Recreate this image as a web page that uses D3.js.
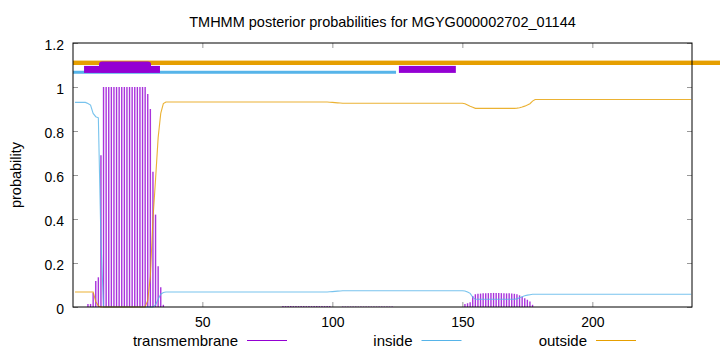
<!DOCTYPE html>
<html>
<head>
<meta charset="utf-8">
<script src="https://cdn.jsdelivr.net/npm/d3@7"></script>
<style>
  body { margin: 0; background: #fff; }
  svg { display: block; font-family: "Liberation Sans", Arial, sans-serif; }
</style>
</head>
<body>
<script>

// posterior probabilities per residue (1..238)
var insideProb = [
    0.93, 0.93, 0.93, 0.93, 0.93, 0.925, 0.918, 0.88, 0.865, 0.86,
    0.3, 0, 0, 0, 0, 0, 0, 0, 0, 0,
    0, 0, 0, 0, 0, 0, 0, 0, 0, 0,
    0, 0.01, 0.035, 0.058, 0.066, 0.068, 0.068, 0.068, 0.068, 0.068,
    0.068, 0.068, 0.068, 0.068, 0.068, 0.068, 0.068, 0.068, 0.068, 0.068,
    0.068, 0.068, 0.068, 0.068, 0.068, 0.068, 0.068, 0.068, 0.068, 0.068,
    0.068, 0.068, 0.068, 0.068, 0.068, 0.068, 0.068, 0.068, 0.068, 0.068,
    0.068, 0.068, 0.068, 0.068, 0.068, 0.068, 0.068, 0.068, 0.068, 0.068,
    0.068, 0.068, 0.068, 0.068, 0.068, 0.068, 0.068, 0.068, 0.068, 0.068,
    0.068, 0.068, 0.068, 0.068, 0.068, 0.068, 0.068, 0.068, 0.069, 0.070,
    0.071, 0.072, 0.073, 0.074, 0.074, 0.074, 0.074, 0.074, 0.074, 0.074,
    0.074, 0.074, 0.074, 0.074, 0.074, 0.074, 0.074, 0.074, 0.074, 0.074,
    0.074, 0.074, 0.074, 0.074, 0.074, 0.074, 0.074, 0.074, 0.074, 0.074,
    0.074, 0.074, 0.074, 0.074, 0.074, 0.074, 0.074, 0.074, 0.074, 0.074,
    0.074, 0.074, 0.074, 0.074, 0.074, 0.074, 0.074, 0.074, 0.074, 0.074,
    0.073, 0.068, 0.062, 0.045, 0.035, 0.035, 0.035, 0.035, 0.035, 0.035,
    0.035, 0.035, 0.035, 0.035, 0.035, 0.035, 0.035, 0.035, 0.035, 0.035,
    0.037, 0.042, 0.047, 0.051, 0.054, 0.056, 0.058, 0.058, 0.058, 0.058,
    0.058, 0.058, 0.058, 0.058, 0.058, 0.058, 0.058, 0.058, 0.058, 0.058,
    0.058, 0.058, 0.058, 0.058, 0.058, 0.058, 0.058, 0.058, 0.058, 0.058,
    0.058, 0.058, 0.058, 0.058, 0.058, 0.058, 0.058, 0.058, 0.058, 0.058,
    0.058, 0.058, 0.058, 0.058, 0.058, 0.058, 0.058, 0.058, 0.058, 0.058,
    0.058, 0.058, 0.058, 0.058, 0.058, 0.058, 0.058, 0.058, 0.058, 0.058,
    0.058, 0.058, 0.058, 0.058, 0.058, 0.058, 0.058, 0.058
];

var tmProb = [
    0, 0, 0, 0, 0, 0.014, 0.014, 0.065, 0.118, 0.135,
    0.69, 1, 1, 1, 1, 1, 1, 1, 1, 1,
    1, 1, 1, 1, 1, 1, 1, 1, 0.968, 0.9,
    0.615, 0.42, 0.185, 0.09, 0.01, 0, 0, 0, 0, 0,
    0, 0, 0, 0, 0, 0, 0, 0, 0, 0,
    0, 0, 0, 0, 0, 0, 0, 0, 0, 0,
    0, 0, 0, 0, 0, 0, 0, 0, 0, 0,
    0, 0, 0, 0, 0, 0, 0, 0, 0, 0,
    0.004, 0.004, 0.004, 0.004, 0.004, 0.004, 0.004, 0.004, 0.004, 0.004,
    0.004, 0.004, 0.004, 0.004, 0.004, 0.004, 0.004, 0.004, 0.004, 0,
    0, 0, 0, 0.002, 0.002, 0.002, 0.002, 0.002, 0.002, 0.002,
    0.002, 0.002, 0.002, 0.002, 0.002, 0.002, 0.002, 0.002, 0.002, 0.002,
    0.002, 0.002, 0.002, 0, 0, 0, 0, 0, 0, 0,
    0, 0, 0, 0, 0, 0, 0, 0, 0, 0,
    0, 0, 0, 0, 0, 0, 0, 0, 0, 0,
    0.014, 0.017, 0.022, 0.05, 0.058, 0.06, 0.061, 0.062, 0.063, 0.063,
    0.064, 0.064, 0.064, 0.064, 0.063, 0.063, 0.062, 0.062, 0.061, 0.06,
    0.058, 0.053, 0.047, 0.04, 0.033, 0.025, 0.01, 0, 0, 0,
    0, 0, 0, 0, 0, 0, 0, 0, 0, 0,
    0, 0, 0, 0, 0, 0, 0, 0, 0, 0,
    0, 0, 0, 0, 0, 0, 0, 0, 0, 0,
    0, 0, 0, 0, 0, 0, 0, 0, 0, 0,
    0, 0, 0, 0, 0, 0, 0, 0, 0, 0,
    0, 0, 0, 0, 0, 0, 0, 0
];

var outsideProb = [
    0.068, 0.068, 0.068, 0.068, 0.068, 0.068, 0.068, 0.068, 0.025, 0.005,
    0, 0, 0, 0, 0, 0, 0, 0, 0, 0,
    0, 0, 0, 0, 0, 0, 0, 0, 0.03, 0.14,
    0.40, 0.58, 0.77, 0.88, 0.925, 0.932, 0.932, 0.932, 0.932, 0.932,
    0.932, 0.932, 0.932, 0.932, 0.932, 0.932, 0.932, 0.932, 0.932, 0.932,
    0.932, 0.932, 0.932, 0.932, 0.932, 0.932, 0.932, 0.932, 0.932, 0.932,
    0.932, 0.932, 0.932, 0.932, 0.932, 0.932, 0.932, 0.932, 0.932, 0.932,
    0.932, 0.932, 0.932, 0.932, 0.932, 0.932, 0.932, 0.932, 0.932, 0.932,
    0.932, 0.932, 0.932, 0.932, 0.932, 0.932, 0.932, 0.932, 0.932, 0.932,
    0.932, 0.932, 0.932, 0.932, 0.932, 0.932, 0.932, 0.932, 0.931, 0.93,
    0.929, 0.928, 0.927, 0.926, 0.926, 0.926, 0.926, 0.926, 0.926, 0.926,
    0.926, 0.926, 0.926, 0.926, 0.926, 0.926, 0.926, 0.926, 0.926, 0.926,
    0.926, 0.926, 0.926, 0.926, 0.926, 0.926, 0.926, 0.926, 0.926, 0.926,
    0.926, 0.926, 0.926, 0.926, 0.926, 0.926, 0.926, 0.926, 0.926, 0.926,
    0.926, 0.926, 0.926, 0.926, 0.926, 0.926, 0.926, 0.926, 0.926, 0.926,
    0.924, 0.918, 0.912, 0.908, 0.903, 0.903, 0.903, 0.903, 0.903, 0.903,
    0.903, 0.903, 0.903, 0.903, 0.903, 0.903, 0.903, 0.903, 0.903, 0.903,
    0.904, 0.906, 0.909, 0.913, 0.918, 0.924, 0.936, 0.943, 0.943, 0.943,
    0.943, 0.943, 0.943, 0.943, 0.943, 0.943, 0.943, 0.943, 0.943, 0.943,
    0.943, 0.943, 0.943, 0.943, 0.943, 0.943, 0.943, 0.943, 0.943, 0.943,
    0.943, 0.943, 0.943, 0.943, 0.943, 0.943, 0.943, 0.943, 0.943, 0.943,
    0.943, 0.943, 0.943, 0.943, 0.943, 0.943, 0.943, 0.943, 0.943, 0.943,
    0.943, 0.943, 0.943, 0.943, 0.943, 0.943, 0.943, 0.943, 0.943, 0.943,
    0.943, 0.943, 0.943, 0.943, 0.943, 0.943, 0.943, 0.943
];

// predicted topology segments drawn above the curves: [start, end] in residues
var outsideSegs = [[0.25, 250]];
var insideSegs = [[0.25, 124.5]];
var tmSegs = [[4.5, 33.7], [125.6, 147.5]];
var tmCoreSegs = [[10.25, 30.25]];

var xTicks = [50, 100, 150, 200];
var yTicks = [0, 0.2, 0.4, 0.6, 0.8, 1, 1.2];
var legendLabels = ["transmembrane", "inside", "outside"];
var seriesColors = ["#9400d3", "#56b4e9", "#e69f00"];

var titleText = "TMHMM posterior probabilities for MGYG000002702_01144";

var width = 720, height = 352;
var margin = { top: 43, right: 28, bottom: 45, left: 73 };

var svg = d3.select("body").append("svg")
    .attr("width", width)
    .attr("height", height);

var x = d3.scaleLinear()
    .domain([0.25, 238.33])
    .range([margin.left, width - margin.right]);

var y = d3.scaleLinear()
    .domain([0, 1.2])
    .range([height - margin.bottom, margin.top]);

var residues = d3.range(1, tmProb.length + 1);

// title
svg.append("text")
    .attr("x", (x.range()[0] + x.range()[1]) / 2)
    .attr("y", 27)
    .attr("text-anchor", "middle")
    .style("font-size", "14.5px")
    .text(titleText);

// transmembrane impulses
svg.append("g").selectAll("line")
    .data(residues.filter(function (r) { return tmProb[r - 1] > 0; }))
    .enter().append("line")
    .attr("x1", function (r) { return x(r); })
    .attr("x2", function (r) { return x(r); })
    .attr("y1", y(0))
    .attr("y2", function (r) { return y(tmProb[r - 1]); })
    .attr("stroke", seriesColors[0])
    .attr("stroke-opacity", 0.8)
    .attr("stroke-width", 1.4);

// inside and outside curves
var line = d3.line()
    .x(function (d) { return x(d[0]); })
    .y(function (d) { return y(d[1]); });

[insideProb, outsideProb].forEach(function (vals, k) {
    svg.append("path")
        .datum(residues.map(function (r) { return [r, vals[r - 1]]; }))
        .attr("fill", "none")
        .attr("stroke", seriesColors[k + 1])
        .attr("stroke-opacity", 0.8)
        .attr("stroke-width", 1.1)
        .attr("d", line);
});

// topology bars at the top
function drawSegs(segs, level, thick, color, rx) {
    svg.append("g").selectAll("rect")
        .data(segs)
        .enter().append("rect")
        .attr("x", function (d) { return x(d[0]); })
        .attr("width", function (d) { return x(d[1]) - x(d[0]); })
        .attr("y", y(level) - thick / 2)
        .attr("height", thick)
        .attr("rx", rx)
        .attr("fill", color);
}
drawSegs(outsideSegs, 1.11, 4.4, seriesColors[2], 0);
drawSegs(insideSegs, 1.067, 3, seriesColors[1], 0);
drawSegs(tmSegs, 1.08, 7, seriesColors[0], 0);
drawSegs(tmCoreSegs, 1.091, 11, seriesColors[0], 3);

// axes (gnuplot style: ticks inside, mirrored)
var yAxis = d3.axisLeft(y).tickValues(yTicks).tickSize(-5).tickPadding(9)
    .tickFormat(d3.format("~g"));
var xAxis = d3.axisBottom(x).tickValues(xTicks).tickSize(-5).tickPadding(10);

var gy = svg.append("g")
    .attr("transform", "translate(" + x.range()[0] + ",0)")
    .call(yAxis);
var gx = svg.append("g")
    .attr("transform", "translate(0," + y(0) + ")")
    .call(xAxis);
var gyr = svg.append("g")
    .attr("transform", "translate(" + x.range()[1] + ",0)")
    .call(d3.axisRight(y).tickValues(yTicks).tickSize(-5).tickFormat(""));
var gxt = svg.append("g")
    .attr("transform", "translate(0," + y(1.2) + ")")
    .call(d3.axisTop(x).tickValues(xTicks).tickSize(-5).tickFormat(""));

[gy, gx, gyr, gxt].forEach(function (g) {
    g.select(".domain").remove();
    g.selectAll(".tick line").attr("stroke", "#999");
    g.selectAll("text")
        .style("font-family", "Liberation Sans, Arial, sans-serif")
        .style("font-size", "14px")
        .attr("fill", "#000");
});
gy.selectAll(".tick text").attr("dy", "0.45em");

// plot border
svg.append("rect")
    .attr("x", x.range()[0])
    .attr("y", y(1.2))
    .attr("width", x.range()[1] - x.range()[0])
    .attr("height", y(0) - y(1.2))
    .attr("fill", "none")
    .attr("stroke", "#000")
    .attr("stroke-width", 1);

// y label
svg.append("text")
    .attr("transform", "translate(21," + ((y(0) + y(1.2)) / 2) + ") rotate(-90)")
    .attr("text-anchor", "middle")
    .style("font-size", "14.5px")
    .text("probability");

// legend
var legend = svg.append("g").selectAll("g")
    .data(legendLabels)
    .enter().append("g")
    .attr("transform", function (d, i) { return "translate(" + (238 + i * 174.5) + ",0)"; });

legend.append("text")
    .attr("x", 0)
    .attr("y", 346)
    .attr("text-anchor", "end")
    .style("font-size", "15px")
    .text(function (d) { return d; });

legend.append("line")
    .attr("x1", 9)
    .attr("x2", 49)
    .attr("y1", 340.5)
    .attr("y2", 340.5)
    .attr("stroke", function (d, i) { return seriesColors[i]; })
    .attr("stroke-width", 1);

</script>
</body>
</html>
